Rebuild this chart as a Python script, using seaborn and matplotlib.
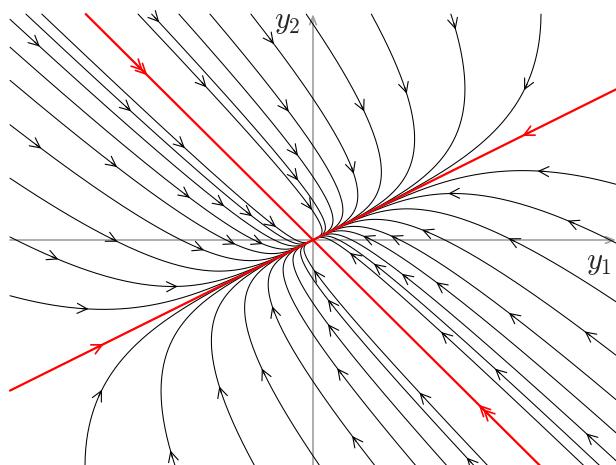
import numpy as np
import matplotlib
matplotlib.use("Agg")
import matplotlib.pyplot as plt
import seaborn as sns

# linear system y' = A y  (stable node)
A = np.array([[-2.0, 2.0], [1.0, -3.0]])

# box the trajectories live in
x_box = 4.0
y_box = 3.0

# trajectories entering through the left edge (y1 = -4): y2 values
left_y2 = [2.93, 2.56, 2.12, 1.53, 0.82, 0.04, -0.74]
left_arrow_t = [[0.03, 0.39], [0.30, 0.70], [0.15, 0.55], [0.04, 0.45],
                [0.20], [0.09, 0.50], [0.20]]

# trajectories entering through the top edge (y2 = 3): y1 values
top_y1 = [-3.79, -3.58, -2.31, -2.13, -1.77, -1.36, -0.82, -0.09, 0.77, 1.82, 3.01]
top_arrow_t = [[0.13, 0.48], [0.21, 0.61], [0.105, 0.58], [0.01, 0.38], [0.29],
               [0.17], [0.044, 0.43], [0.20], [0.17], [0.03], [0.23]]

# eigen-lines: start point on the box edge and arrow time
eig_starts = [(-4.0, -2.0), (4.0, 2.0), (-3.0, 3.0), (3.0, -3.0)]
eig_arrow_t = [0.37, 0.37, 0.079, 0.079]
eig_double = [False, False, True, True]

evals, evecs = np.linalg.eig(A)
evecs_inv = np.linalg.inv(evecs)


def solve(y0, t):
    c = evecs_inv @ np.asarray(y0)
    return (evecs @ (c[:, None] * np.exp(np.outer(evals, t)))).real


def head(ax, y0, t, color, back=0.0, lw=0.8):
    p = solve(y0, [t, t + 1e-3])
    d = p[:, 1] - p[:, 0]
    d = d / np.hypot(*d)
    tip = p[:, 0] - back * d
    ax.annotate("", xy=tip, xytext=(-5 * d[0], -5 * d[1]),
                textcoords="offset points",
                arrowprops=dict(arrowstyle="->,head_length=0.6,head_width=0.3",
                                color=color, lw=lw, shrinkA=0, shrinkB=0),
                zorder=4)


sns.set_theme(style="white")
plt.rcParams["mathtext.fontset"] = "cm"

fig = plt.figure(figsize=(6.16, 4.65), dpi=100)
ax = fig.add_axes([0, 0, 1, 1])
ax.set_xlim(-4.132, 4.0)
ax.set_ylim(-2.988, 3.187)
ax.axis("off")

# coordinate axes
axis_kw = dict(arrowstyle="->,head_length=0.5,head_width=0.2", color="#a0a0a0",
               lw=1.2, shrinkA=0, shrinkB=0)
ax.annotate("", xy=(x_box, 0), xytext=(-x_box, 0), arrowprops=axis_kw, zorder=1)
ax.annotate("", xy=(0, y_box), xytext=(0, -y_box), arrowprops=axis_kw, zorder=1)
ax.text(-0.16, 2.9, r"$y_2$", fontsize=22, ha="right", va="center")
ax.text(3.6, -0.3, r"$y_1$", fontsize=22, ha="left", va="center")

t = np.linspace(0, 9, 900)
curves = [((-x_box, v), a) for v, a in zip(left_y2, left_arrow_t)]
curves += [((v, y_box), a) for v, a in zip(top_y1, top_arrow_t)]

for sign in (1, -1):
    for (x0, y0), arrows in curves:
        start = (sign * x0, sign * y0)
        p = solve(start, t)
        inside = (np.abs(p[0]) <= x_box + 1e-6) & (np.abs(p[1]) <= y_box + 1e-6)
        sns.lineplot(x=p[0][inside], y=p[1][inside], sort=False, estimator=None,
                     color="black", linewidth=0.75, ax=ax, zorder=2)
        for ta in arrows:
            head(ax, start, ta, "black")

for start, ta, dbl in zip(eig_starts, eig_arrow_t, eig_double):
    p = solve(start, t)
    sns.lineplot(x=p[0], y=p[1], sort=False, estimator=None,
                 color="red", linewidth=1.6, ax=ax, zorder=3)
    head(ax, start, ta, "red", lw=1.2)
    if dbl:
        head(ax, start, ta, "red", back=0.08, lw=1.2)

fig.savefig("out.png", dpi=100)
